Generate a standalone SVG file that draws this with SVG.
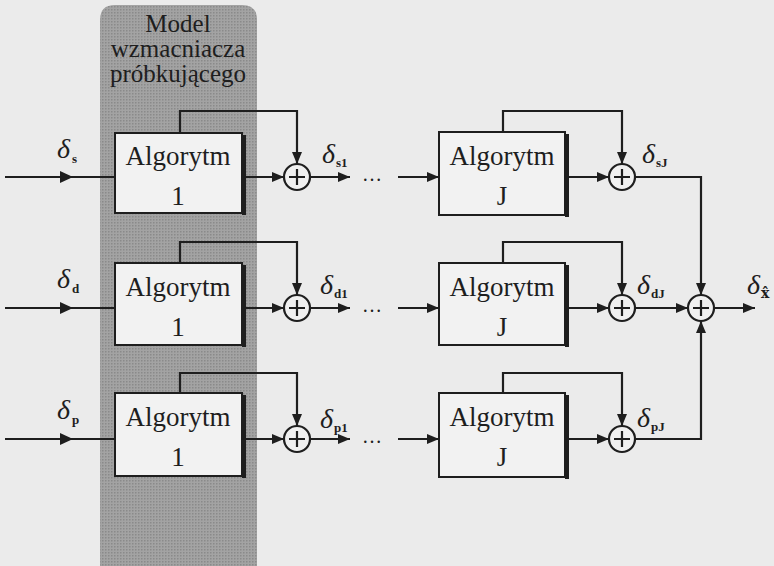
<svg xmlns="http://www.w3.org/2000/svg" width="774" height="566" viewBox="0 0 774 566">
<defs>
<marker id="ah" viewBox="0 0 12 10" refX="12" refY="5" markerWidth="12" markerHeight="10" markerUnits="userSpaceOnUse" orient="auto">
<path d="M0,0 L12,5 L0,10 Z" fill="#1e1e1e"/>
</marker>
<pattern id="dots" width="3" height="3" patternUnits="userSpaceOnUse">
<rect width="3" height="3" fill="#a3a3a3"/>
<rect width="1.5" height="1.5" fill="#8a8a8a"/>
</pattern>
</defs>
<style>
.ln{fill:none;stroke:#1e1e1e;stroke-width:2.2}
.box{fill:#f2f2f2;stroke:#1e1e1e;stroke-width:2}
.sh{stroke:#1e1e1e;stroke-width:4}
.sum{fill:#f0f0f0;stroke:#1e1e1e;stroke-width:2.2}
.t{font-family:"Liberation Serif","Times New Roman",serif;fill:#1e1e1e}
.bt{font-size:27px;text-anchor:middle}
.d{font-size:28px;font-style:italic}
.sub{font-size:13px;font-style:normal;font-weight:bold}
.ttl{font-size:25px;text-anchor:middle}
</style>
<rect width="774" height="566" fill="#ebebeb"/>
<g id="panel">
<path d="M100,20 Q100,5 115,5 L242,5 Q257,5 257,20 L257,566 L100,566 Z" fill="url(#dots)"/>
<text class="t ttl" x="178" y="32">Model</text>
<text class="t ttl" x="178" y="57">wzmacniacza</text>
<text class="t ttl" x="178" y="82">próbkującego</text>
</g>
<g id="connectors">
<line class="ln" x1="5" y1="177" x2="115" y2="177"/>
<path d="M60,171 L73,177 L60,183 Z" fill="#1e1e1e"/>
<line class="ln" x1="5" y1="308" x2="115" y2="308"/>
<path d="M60,302 L73,308 L60,314 Z" fill="#1e1e1e"/>
<line class="ln" x1="5" y1="439" x2="115" y2="439"/>
<path d="M60,433 L73,439 L60,445 Z" fill="#1e1e1e"/>
<polyline class="ln" points="180,133 180,111 297,111 297,164" marker-end="url(#ah)"/>
<polyline class="ln" points="180,263 180,242 297,242 297,295" marker-end="url(#ah)"/>
<polyline class="ln" points="180,393 180,373 297,373 297,426" marker-end="url(#ah)"/>
<line class="ln" x1="246" y1="177" x2="284" y2="177" marker-end="url(#ah)"/>
<line class="ln" x1="246" y1="308" x2="284" y2="308" marker-end="url(#ah)"/>
<line class="ln" x1="246" y1="439" x2="284" y2="439" marker-end="url(#ah)"/>
<line class="ln" x1="310" y1="177" x2="350" y2="177" marker-end="url(#ah)"/>
<line class="ln" x1="310" y1="308" x2="350" y2="308" marker-end="url(#ah)"/>
<line class="ln" x1="310" y1="439" x2="350" y2="439" marker-end="url(#ah)"/>
<line class="ln" x1="398" y1="177" x2="439" y2="177" marker-end="url(#ah)"/>
<line class="ln" x1="398" y1="308" x2="439" y2="308" marker-end="url(#ah)"/>
<line class="ln" x1="398" y1="439" x2="439" y2="439" marker-end="url(#ah)"/>
<polyline class="ln" points="503,132 503,111 622,111 622,164" marker-end="url(#ah)"/>
<polyline class="ln" points="503,263 503,242 622,242 622,295" marker-end="url(#ah)"/>
<polyline class="ln" points="503,393 503,373 622,373 622,426" marker-end="url(#ah)"/>
<line class="ln" x1="569" y1="177" x2="609" y2="177" marker-end="url(#ah)"/>
<line class="ln" x1="569" y1="308" x2="609" y2="308" marker-end="url(#ah)"/>
<line class="ln" x1="569" y1="439" x2="609" y2="439" marker-end="url(#ah)"/>
<polyline class="ln" points="635,177 701,177 701,295" marker-end="url(#ah)"/>
<line class="ln" x1="635" y1="308" x2="688" y2="308" marker-end="url(#ah)"/>
<polyline class="ln" points="635,439 701,439 701,321" marker-end="url(#ah)"/>
<line class="ln" x1="714" y1="308" x2="755" y2="308" marker-end="url(#ah)"/>
</g>
<g id="box-s1"><rect class="box" x="115" y="133" width="127" height="80"/><line class="sh" x1="244" y1="135" x2="244" y2="215"/><text class="t bt" x="178" y="165">Algorytm</text><text class="t bt" x="178" y="205">1</text></g>
<g id="box-d1"><rect class="box" x="115" y="263" width="127" height="82"/><line class="sh" x1="244" y1="265" x2="244" y2="347"/><text class="t bt" x="178" y="296">Algorytm</text><text class="t bt" x="178" y="336">1</text></g>
<g id="box-p1"><rect class="box" x="115" y="393" width="127" height="83"/><line class="sh" x1="244" y1="395" x2="244" y2="478"/><text class="t bt" x="178" y="426">Algorytm</text><text class="t bt" x="178" y="466">1</text></g>
<g id="box-sJ"><rect class="box" x="439" y="132" width="126" height="83"/><line class="sh" x1="567" y1="134" x2="567" y2="217"/><text class="t bt" x="502" y="165">Algorytm</text><text class="t bt" x="502" y="205">J</text></g>
<g id="box-dJ"><rect class="box" x="439" y="263" width="126" height="82"/><line class="sh" x1="567" y1="265" x2="567" y2="347"/><text class="t bt" x="502" y="296">Algorytm</text><text class="t bt" x="502" y="336">J</text></g>
<g id="box-pJ"><rect class="box" x="439" y="393" width="126" height="84"/><line class="sh" x1="567" y1="395" x2="567" y2="479"/><text class="t bt" x="502" y="426">Algorytm</text><text class="t bt" x="502" y="466">J</text></g>
<g id="sums">
<g id="sum-s1"><circle class="sum" cx="297" cy="177" r="13"/><path class="ln" d="M289,177 H305 M297,169 V185"/></g>
<g id="sum-d1"><circle class="sum" cx="297" cy="308" r="13"/><path class="ln" d="M289,308 H305 M297,300 V316"/></g>
<g id="sum-p1"><circle class="sum" cx="297" cy="439" r="13"/><path class="ln" d="M289,439 H305 M297,431 V447"/></g>
<g id="sum-sJ"><circle class="sum" cx="622" cy="177" r="13"/><path class="ln" d="M614,177 H630 M622,169 V185"/></g>
<g id="sum-dJ"><circle class="sum" cx="622" cy="308" r="13"/><path class="ln" d="M614,308 H630 M622,300 V316"/></g>
<g id="sum-pJ"><circle class="sum" cx="622" cy="439" r="13"/><path class="ln" d="M614,439 H630 M622,431 V447"/></g>
<g id="sum-out"><circle class="sum" cx="701" cy="308" r="13"/><path class="ln" d="M693,308 H709 M701,300 V316"/></g>
</g>
<g id="labels">
<text class="t d" x="57" y="158">δ<tspan class="sub" dx="2" dy="5">s</tspan></text>
<text class="t d" x="57" y="288">δ<tspan class="sub" dx="2" dy="5">d</tspan></text>
<text class="t d" x="57" y="419">δ<tspan class="sub" dx="2" dy="5">p</tspan></text>
<text class="t d" x="322" y="163">δ<tspan class="sub" dx="1" dy="4">s1</tspan></text>
<text class="t d" x="320" y="294">δ<tspan class="sub" dx="1" dy="4">d1</tspan></text>
<text class="t d" x="320" y="428">δ<tspan class="sub" dx="1" dy="4">p1</tspan></text>
<text class="t d" x="642" y="163">δ<tspan class="sub" dx="1" dy="4">sJ</tspan></text>
<text class="t d" x="637" y="294">δ<tspan class="sub" dx="1" dy="4">dJ</tspan></text>
<text class="t d" x="637" y="427">δ<tspan class="sub" dx="1" dy="4">pJ</tspan></text>
<text class="t d" x="747" y="294">δ<tspan dx="1" dy="4" style="font-family:'DejaVu Serif',serif;font-size:14px;font-style:normal;font-weight:bold">x̂</tspan></text>
<text class="t" x="362" y="181" font-size="20">…</text>
<text class="t" x="362" y="312" font-size="20">…</text>
<text class="t" x="362" y="443" font-size="20">…</text>
</g>
</svg>
